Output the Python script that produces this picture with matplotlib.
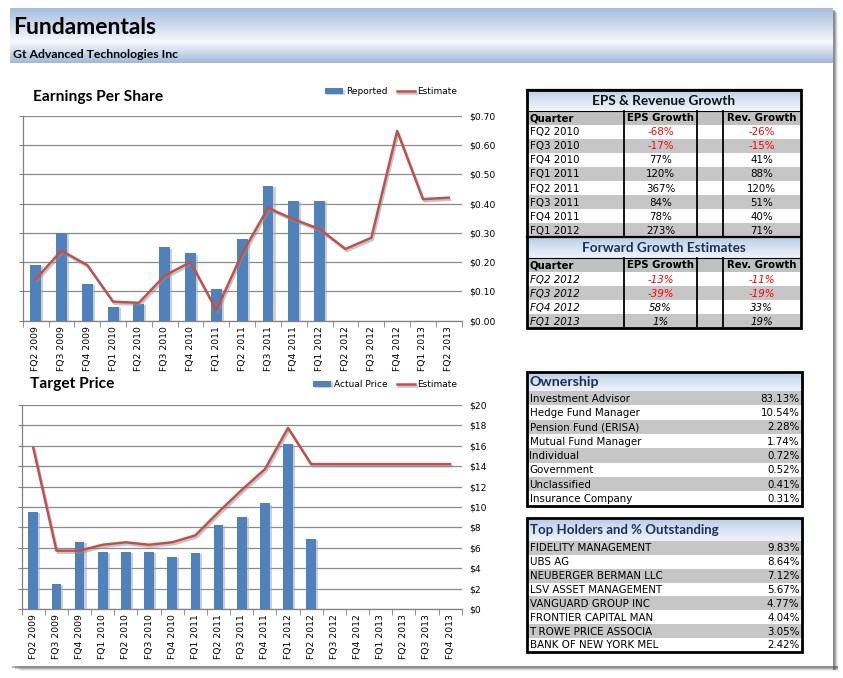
import numpy as np
import matplotlib
matplotlib.use("Agg")
import matplotlib.pyplot as plt
from matplotlib.patches import Rectangle
from matplotlib.ticker import FuncFormatter, FixedLocator
import matplotlib.patheffects as pe

# ---- data ----
eps_quarters = ['FQ2 2009', 'FQ3 2009', 'FQ4 2009', 'FQ1 2010', 'FQ2 2010', 'FQ3 2010',
                'FQ4 2010', 'FQ1 2011', 'FQ2 2011', 'FQ3 2011', 'FQ4 2011', 'FQ1 2012',
                'FQ2 2012', 'FQ3 2012', 'FQ4 2012', 'FQ1 2013', 'FQ2 2013']
eps_reported = [0.19, 0.30, 0.125, 0.047, 0.057, 0.25, 0.23, 0.108, 0.28, 0.46, 0.41, 0.41]
eps_estimate = [0.142, 0.239, 0.19, 0.065, 0.061, 0.154, 0.20, 0.036, 0.23, 0.385, 0.346,
                0.313, 0.245, 0.283, 0.648, 0.415, 0.42]

tp_quarters = ['FQ2 2009', 'FQ3 2009', 'FQ4 2009', 'FQ1 2010', 'FQ2 2010', 'FQ3 2010',
               'FQ4 2010', 'FQ1 2011', 'FQ2 2011', 'FQ3 2011', 'FQ4 2011', 'FQ1 2012',
               'FQ2 2012', 'FQ3 2012', 'FQ4 2012', 'FQ1 2013', 'FQ2 2013', 'FQ3 2013',
               'FQ4 2013']
tp_actual = [9.55, 2.45, 6.6, 5.62, 5.62, 5.62, 5.13, 5.5, 8.27, 9.05, 10.36, 16.18, 6.86]
tp_estimate = [15.8, 5.72, 5.72, 6.3, 6.54, 6.3, 6.54, 7.22, 9.5, 11.67, 13.7, 17.75,
               14.2, 14.2, 14.2, 14.2, 14.2, 14.2, 14.2]

growth_quarters = ['FQ2 2010', 'FQ3 2010', 'FQ4 2010', 'FQ1 2011', 'FQ2 2011',
                   'FQ3 2011', 'FQ4 2011', 'FQ1 2012']
growth_eps = [-68, -17, 77, 120, 367, 84, 78, 273]
growth_rev = [-26, -15, 41, 88, 120, 51, 40, 71]

fwd_quarters = ['FQ2 2012', 'FQ3 2012', 'FQ4 2012', 'FQ1 2013']
fwd_eps = [-13, -39, 58, 1]
fwd_rev = [-11, -19, 33, 19]

owner_types = ['Investment Advisor', 'Hedge Fund Manager', 'Pension Fund (ERISA)',
               'Mutual Fund Manager', 'Individual', 'Government', 'Unclassified',
               'Insurance Company']
owner_pct = [83.13, 10.54, 2.28, 1.74, 0.72, 0.52, 0.41, 0.31]

holders = ['FIDELITY MANAGEMENT', 'UBS AG', 'NEUBERGER BERMAN LLC', 'LSV ASSET MANAGEMENT',
           'VANGUARD GROUP INC', 'FRONTIER CAPITAL MAN', 'T ROWE PRICE ASSOCIA',
           'BANK OF NEW YORK MEL']
holder_pct = [9.83, 8.64, 7.12, 5.67, 4.77, 4.04, 3.05, 2.42]

# ---- style ----
W, H = 843, 678
BLUE = '#4f81bd'
RED = '#c0504d'
GRAY_ROW = '#c6c6c6'
NAVY = '#1f2f55'
TITLE_FONT = 'Lato'
BODY_FONT = 'DejaVu Sans'
BODY_SIZE = 7.4

fig = plt.figure(figsize=(W / 100, H / 100), dpi=100)
fig.patch.set_facecolor('white')

# background axes in pixel coordinates
bg = fig.add_axes([0, 0, 1, 1], zorder=0)
bg.axis('off')


def vgrad(x0, x1, y0, y1, stops, z=1):
    t = np.linspace(0, 1, 64)
    pos = [s[0] for s in stops]
    cols = np.array([matplotlib.colors.to_rgb(s[1]) for s in stops])
    img = np.stack([np.interp(t, pos, cols[:, k]) for k in range(3)], axis=1)
    img = np.repeat(img[:, None, :], 2, axis=1)
    bg.imshow(img, extent=(x0, x1, y1, y0), aspect='auto', zorder=z,
              interpolation='bilinear')


# page shadow
for i, a in enumerate([0.10, 0.18, 0.30, 0.45]):
    bg.add_patch(Rectangle((833, 10 + 3 - i), 5 - i, 660 - 3 + i,
                           color='#606060', alpha=a, lw=0, zorder=0.5))
    bg.add_patch(Rectangle((12 + (3 - i) * 3, 666), 826 - (3 - i) * 3, 5 - i,
                           color='#606060', alpha=a, lw=0, zorder=0.5))
bg.add_patch(Rectangle((0, 0), 833, 666, color='white', lw=0, zorder=0.6))

# header band
vgrad(10, 833, 8, 63, [(0, '#a6bddc'), (0.62, '#f7f9fd'), (1, '#a2b9da')])
bg.text(13, 27, 'Fundamentals', fontsize=16.5, fontweight='bold', family=TITLE_FONT,
        va='center', ha='left', color='black', zorder=3)
bg.text(13, 54, 'Gt Advanced Technologies Inc', fontsize=8.8, fontweight='bold',
        family=TITLE_FONT, va='center', ha='left', color='black', zorder=3)


def pct(v):
    return f'{v}%'


def table_title(x0, x1, y0, y1, text, center=True, color='black', size=9.8):
    vgrad(x0, x1, y0, y1, [(0, '#b8cce6'), (0.5, '#d6e3f3'), (1, '#eef3fa')], z=2)
    if center:
        bg.text((x0 + x1) / 2, (y0 + y1) / 2 + 0.5, text, ha='center', va='center',
                fontsize=size, fontweight='bold', family=TITLE_FONT, color=color, zorder=3)
    else:
        bg.text(x0 + 3, (y0 + y1) / 2 + 0.5, text, ha='left', va='center',
                fontsize=size, fontweight='bold', family=TITLE_FONT, color=color, zorder=3)


# ---- EPS & Revenue Growth table ----
tx0, tx1 = 526.5, 800.5
cols = [tx0, 624, 697, 723, tx1]
row_h = 14.1


def growth_block(y0, title, quarters, e_vals, r_vals, italic, title_color):
    table_title(tx0, tx1, y0, y0 + 20.5, title, color=title_color)
    yh = y0 + 20.5
    bg.add_patch(Rectangle((tx0, yh), tx1 - tx0, row_h, color='#c0c0c0', lw=0, zorder=2))
    hdr = ['Quarter', 'EPS Growth', '', 'Rev. Growth']
    for k, h in enumerate(hdr):
        if k == 0:
            bg.text(cols[0] + 3, yh + row_h / 2 + 0.5, h, ha='left', va='center',
                    fontsize=7.3, fontweight='bold', family=BODY_FONT, zorder=3)
        elif h:
            bg.text((cols[k] + cols[k + 1]) / 2, yh + row_h / 2 + 0.5, h, ha='center',
                    va='center', fontsize=7.3, fontweight='bold', family=BODY_FONT, zorder=3)
    yr = yh + row_h
    style = 'italic' if italic else 'normal'
    for i, q in enumerate(quarters):
        if i % 2 == 1:
            bg.add_patch(Rectangle((tx0, yr + i * row_h), tx1 - tx0, row_h,
                                   color=GRAY_ROW, lw=0, zorder=2))
        yc = yr + i * row_h + row_h / 2 + 0.5
        bg.text(cols[0] + 3, yc, q, ha='left', va='center', fontsize=BODY_SIZE,
                style=style, family=BODY_FONT, zorder=3)
        for k, v in ((1, e_vals[i]), (3, r_vals[i])):
            bg.text((cols[k] + cols[k + 1]) / 2, yc, pct(v), ha='center', va='center',
                    fontsize=BODY_SIZE, style=style, family=BODY_FONT,
                    color='red' if v < 0 else 'black', zorder=3)
    yend = yr + len(quarters) * row_h
    for c in cols[1:4]:
        bg.plot([c, c], [yh, yend], color='black', lw=1.3, zorder=4)
    bg.plot([tx0, tx1], [y0, y0], color='black', lw=1.6, zorder=4)
    bg.plot([tx0, tx1], [yh, yh], color='black', lw=0.8, zorder=4)
    return yend


y_mid = growth_block(90, 'EPS & Revenue Growth', growth_quarters, growth_eps, growth_rev,
                     italic=False, title_color='#111111')
y_end = growth_block(y_mid, 'Forward Growth Estimates', fwd_quarters, fwd_eps, fwd_rev,
                     italic=True, title_color=NAVY)
bg.add_patch(Rectangle((tx0, 90), tx1 - tx0, y_end - 90, fill=False, ec='black',
                       lw=2, zorder=5))


# ---- list tables ----
def list_table(y0, title, names, vals, title_h, rh, x1, size):
    table_title(tx0, x1, y0, y0 + title_h, title, center=False, color=NAVY, size=size)
    yr = y0 + title_h
    for i, (n, v) in enumerate(zip(names, vals)):
        if i % 2 == 0:
            bg.add_patch(Rectangle((tx0, yr + i * rh), x1 - tx0, rh, color=GRAY_ROW,
                                   lw=0, zorder=2))
        yc = yr + i * rh + rh / 2 + 0.5
        bg.text(tx0 + 3, yc, n, ha='left', va='center', fontsize=BODY_SIZE,
                family=BODY_FONT, zorder=3)
        bg.text(x1 - 2, yc, f'{v:.2f}%', ha='right', va='center', fontsize=BODY_SIZE,
                family=BODY_FONT, zorder=3)
    yend = yr + len(names) * rh
    bg.add_patch(Rectangle((tx0, y0), x1 - tx0, yend - y0, fill=False, ec='black',
                           lw=2, zorder=5))


list_table(372, 'Ownership', owner_types, owner_pct, 19, 14.35, 801.5, 10.2)
list_table(518, 'Top Holders and % Outstanding', holders, holder_pct, 23, 13.85, 801.5, 9.5)

bg.set_xlim(0, W)
bg.set_ylim(H, 0)


# ---- charts ----
def combo_chart(rect, cats, bars, line, ylim, step, fmt, title, bar_label, title_xy,
                leg_anchor):
    ax = fig.add_axes(rect, zorder=2)
    ax.patch.set_alpha(0)
    x = np.arange(len(cats))
    hb = ax.bar(x[:len(bars)], bars, width=0.42, color=BLUE, zorder=3, label=bar_label,
                path_effects=[pe.SimplePatchShadow(offset=(1.5, -1),
                                                   shadow_rgbFace='#b0b0b0', alpha=0.6),
                              pe.Normal()])
    hl, = ax.plot(x, line, color=RED, lw=1.8, zorder=4, label='Estimate',
                  path_effects=[pe.SimpleLineShadow(offset=(1, -1.5),
                                                    shadow_color='#909090', alpha=0.5),
                                pe.Normal()])
    ax.set_xlim(-0.5, len(cats) - 0.5)
    ax.set_ylim(*ylim)
    ax.set_yticks(np.arange(ylim[0], ylim[1] + step / 2, step))
    ax.yaxis.set_major_formatter(FuncFormatter(fmt))
    ax.tick_params(axis='y', left=True, right=False, labelleft=False, labelright=True,
                   length=3, color='#808080', labelsize=6.6, pad=2.5)
    ax.grid(axis='y', color='#8a8a8a', lw=0.9, zorder=1)
    ax.set_axisbelow(True)
    for s in ('top', 'right'):
        ax.spines[s].set_visible(False)
    for s in ('left', 'bottom'):
        ax.spines[s].set_color('#808080')
        ax.spines[s].set_linewidth(0.9)
    ax.set_xticks(x)
    ax.set_xticklabels(cats, rotation=90, fontsize=6.7, family=BODY_FONT)
    ax.tick_params(axis='x', which='major', length=0, pad=4)
    ax.xaxis.set_minor_locator(FixedLocator(np.arange(-0.5, len(cats), 1)))
    ax.tick_params(axis='x', which='minor', length=4, color='#808080', direction='out')
    for lab in ax.get_yticklabels():
        lab.set_family(BODY_FONT)
    fig.text(title_xy[0] / W, 1 - title_xy[1] / H, title, fontsize=11.2, fontweight='bold',
             family=TITLE_FONT, va='center', ha='left')
    ax.legend(handles=[hb, hl], loc='center right', bbox_to_anchor=leg_anchor, ncol=2,
              frameon=False, fontsize=6.5, handlelength=2.0, handleheight=0.6,
              handletextpad=0.3, columnspacing=1.0, borderpad=0, borderaxespad=0)
    return ax


combo_chart([22.7 / W, 1 - 320.7 / H, 439 / W, 205 / H], eps_quarters, eps_reported,
            eps_estimate, (0, 0.7), 0.1, lambda v, p: f'${v:.2f}', 'Earnings Per Share',
            'Reported', (33, 97), (0.99, 1.117))
combo_chart([21.7 / W, 1 - 609 / H, 440 / W, 204 / H], tp_quarters, tp_actual,
            tp_estimate, (0, 20), 2, lambda v, p: f'${v:.0f}', 'Target Price',
            'Actual Price', (30, 384), (0.99, 1.1))

fig.savefig('out.png', dpi=100)
